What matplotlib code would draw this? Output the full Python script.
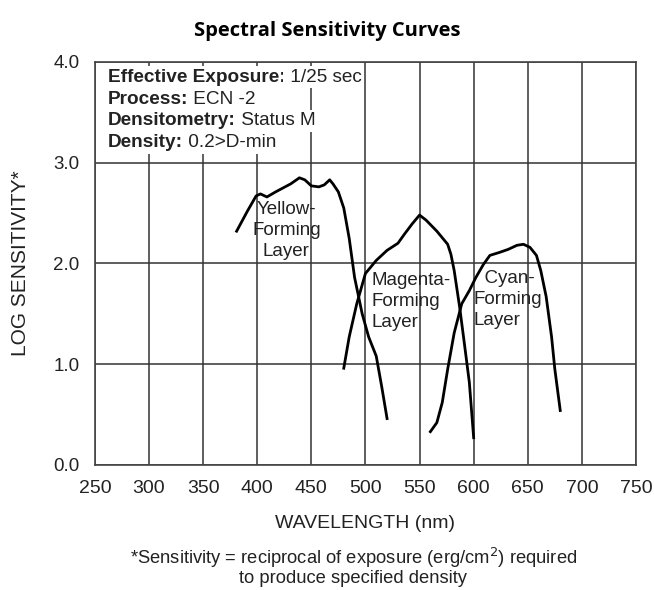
import matplotlib.pyplot as plt
import numpy as np

# values (wavelength nm, log sensitivity)
yellow_nm = [381, 391, 399, 403, 409, 417, 431, 439, 444, 450, 457, 462, 467, 470, 475, 480, 485, 490, 497, 503, 510, 515, 520]
yellow_ls = [2.32, 2.52, 2.67, 2.69, 2.66, 2.71, 2.79, 2.85, 2.83, 2.77, 2.76, 2.78, 2.83, 2.79, 2.71, 2.55, 2.25, 1.86, 1.50, 1.27, 1.08, 0.78, 0.46]

magenta_nm = [480, 485, 492, 500, 510, 520, 530, 536, 543, 550, 556, 566, 576, 579, 582, 587, 591, 596, 600]
magenta_ls = [0.96, 1.27, 1.60, 1.90, 2.03, 2.13, 2.20, 2.29, 2.39, 2.48, 2.43, 2.32, 2.19, 2.09, 1.93, 1.57, 1.24, 0.82, 0.27]

cyan_nm = [560, 566, 571, 576, 582, 589, 596, 602, 609, 615, 624, 632, 640, 646, 652, 658, 662, 667, 672, 675, 680]
cyan_ls = [0.33, 0.42, 0.62, 0.95, 1.31, 1.60, 1.73, 1.86, 1.99, 2.08, 2.11, 2.14, 2.18, 2.19, 2.16, 2.08, 1.93, 1.67, 1.27, 0.95, 0.54]

x_ticks = [250, 300, 350, 400, 450, 500, 550, 600, 650, 700, 750]
y_ticks = [0, 1, 2, 3, 4]
y_labels = ["0.0", "1.0", "2.0", "3.0", "4.0"]

info_bold = ["Effective Exposure:", "Process:", "Densitometry:", "Density:"]
info_plain = ["1/25 sec", "ECN -2", "Status M", "0.2>D-min"]

plt.rcParams['font.family'] = ['Liberation Sans', 'DejaVu Sans']

fig = plt.figure(figsize=(6.54, 5.90), dpi=100)
ax = fig.add_axes([0.145, 0.212, 0.8275, 0.683])

ax.set_xlim(250, 750)
ax.set_ylim(0, 4)
ax.set_xticks(x_ticks)
ax.set_yticks(y_ticks)
ax.set_yticklabels(y_labels)
ax.tick_params(length=0, labelsize=13.5, colors='#222222')
ax.tick_params(axis='x', pad=11, labelsize=14)
ax.tick_params(axis='y', pad=11)
ax.grid(True, color='#333333', linewidth=1.1)
ax.set_axisbelow(True)
for s in ax.spines.values():
    s.set_color('#444444')
    s.set_linewidth(1.2)

for xs, ys in [(yellow_nm, yellow_ls), (magenta_nm, magenta_ls), (cyan_nm, cyan_ls)]:
    ax.plot(xs, ys, color='black', linewidth=2)

lab = dict(va='center', fontsize=13.5, linespacing=1.3, color='#222222')
ax.text(427, 2.33, "Yellow-\nForming\nLayer", ha='center', **lab)
ax.text(506, 1.62, "Magenta-\nForming\nLayer", ha='left', **lab)
ax.text(600, 1.64, "  Cyan-\nForming\nLayer", ha='left', **lab)

y0 = 3.85
for i in range(len(info_bold)):
    t = ax.text(262, y0 - i * 0.218, info_bold[i], fontsize=13.7, fontweight='bold', va='center',
                color='#222222', bbox=dict(facecolor='white', edgecolor='none', pad=1.5))
    ax.annotate(" " + info_plain[i], xy=(1, 0.5), xycoords=t, va='center', fontsize=13.7,
                color='#222222', bbox=dict(facecolor='white', edgecolor='none', pad=1.5))

ax.set_xlabel("WAVELENGTH (nm)", fontsize=14, labelpad=13, color='#222222')
ax.set_ylabel("LOG SENSITIVITY*", fontsize=15, labelpad=17, color='#222222')

fig.text(0.5, 0.947, "Spectral Sensitivity Curves", ha='center', va='center', fontsize=14.5,
         fontweight='bold', family='Open Sans')
fig.text(0.54, 0.040, "*Sensitivity = reciprocal of exposure (erg/cm$^2$) required\nto produce specified density",
         ha='center', va='center', fontsize=13.2, linespacing=1.05, color='#222222')

fig.savefig("out.png", dpi=100)
